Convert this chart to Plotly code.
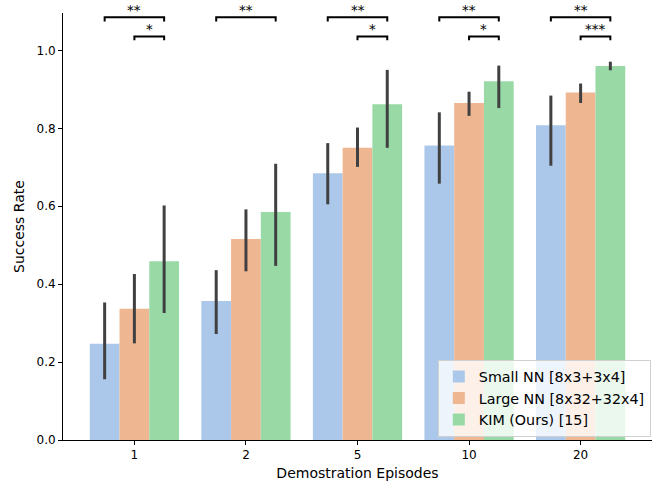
import plotly.graph_objects as go

categories = ["1", "2", "5", "10", "20"]
series_names = ["Small NN [8x3+3x4]", "Large NN [8x32+32x4]", "KIM (Ours) [15]"]
small_nn = [0.247, 0.357, 0.685, 0.756, 0.808]
small_nn_lo = [0.156, 0.272, 0.605, 0.658, 0.704]
small_nn_hi = [0.353, 0.436, 0.762, 0.841, 0.884]
large_nn = [0.337, 0.516, 0.750, 0.865, 0.892]
large_nn_lo = [0.248, 0.433, 0.701, 0.832, 0.865]
large_nn_hi = [0.426, 0.592, 0.802, 0.894, 0.915]
kim = [0.459, 0.585, 0.862, 0.921, 0.960]
kim_lo = [0.326, 0.447, 0.750, 0.852, 0.949]
kim_hi = [0.602, 0.709, 0.950, 0.961, 0.971]
sig_small_vs_kim = ["**", "**", "**", "**", "**"]
sig_large_vs_kim = ["*", "", "*", "*", "***"]
y_ticks = [0.0, 0.2, 0.4, 0.6, 0.8, 1.0]

colors = ["#abc8ea", "#efb692", "#98d9a6"]
series = [(small_nn, small_nn_lo, small_nn_hi),
          (large_nn, large_nn_lo, large_nn_hi),
          (kim, kim_lo, kim_hi)]

xs = list(range(len(categories)))
fig = go.Figure()
for name, color, (vals, lo, hi) in zip(series_names, colors, series):
    fig.add_trace(go.Bar(
        x=xs, y=vals, name=name,
        marker=dict(color=color, line=dict(width=0)),
        error_y=dict(type="data", symmetric=False,
                     array=[h - v for h, v in zip(hi, vals)],
                     arrayminus=[v - l for v, l in zip(vals, lo)],
                     color="#404040", thickness=3, width=0),
    ))

bw = 0.8 / 3
y1, y1t = 1.085, 1.074
y2, y2t = 1.036, 1.026
for i in xs:
    pairs = [(i - bw, i + bw, y1, y1t, sig_small_vs_kim[i]),
             (i, i + bw, y2, y2t, sig_large_vs_kim[i])]
    for xa, xb, yl, yt, lab in pairs:
        if not lab:
            continue
        fig.add_shape(type="path",
                      path=f"M {xa},{yt} L {xa},{yl} L {xb},{yl} L {xb},{yt}",
                      xref="x", yref="y", line=dict(color="black", width=2))
        fig.add_annotation(x=(xa + xb) / 2, y=yl, text=lab, showarrow=False,
                           xref="x", yref="y", yanchor="bottom", yshift=-3,
                           font=dict(size=13.5, color="#000000",
                                     family="DejaVu Sans"))

fig.update_layout(
    width=657, height=485,
    margin=dict(l=63, r=5, t=13, b=45),
    paper_bgcolor="white", plot_bgcolor="white",
    barmode="group", bargap=0.2, bargroupgap=0,
    font=dict(family="DejaVu Sans", size=12, color="black"),
    showlegend=True,
    legend=dict(x=0.998, y=0.008, xanchor="right", yanchor="bottom",
                bgcolor="rgba(255,255,255,0.8)", bordercolor="#d0d0d0",
                borderwidth=1, font=dict(size=14.3), tracegroupgap=0,
                itemwidth=30),
    xaxis=dict(range=[-0.64, 4.64], tickvals=xs, ticktext=categories,
               showline=True, linecolor="black", linewidth=1,
               ticks="outside", ticklen=4, tickcolor="black",
               showgrid=False, zeroline=False,
               title=dict(text="Demostration Episodes", standoff=6,
                          font=dict(size=14))),
    yaxis=dict(range=[0, 1.096], tickvals=y_ticks,
               ticktext=[f"{v:.1f}" for v in y_ticks],
               showline=True, linecolor="black", linewidth=1,
               ticks="outside", ticklen=4, tickcolor="black",
               showgrid=False, zeroline=False,
               title=dict(text="Success Rate", standoff=8,
                          font=dict(size=14))),
)

fig.write_html("out.html")
